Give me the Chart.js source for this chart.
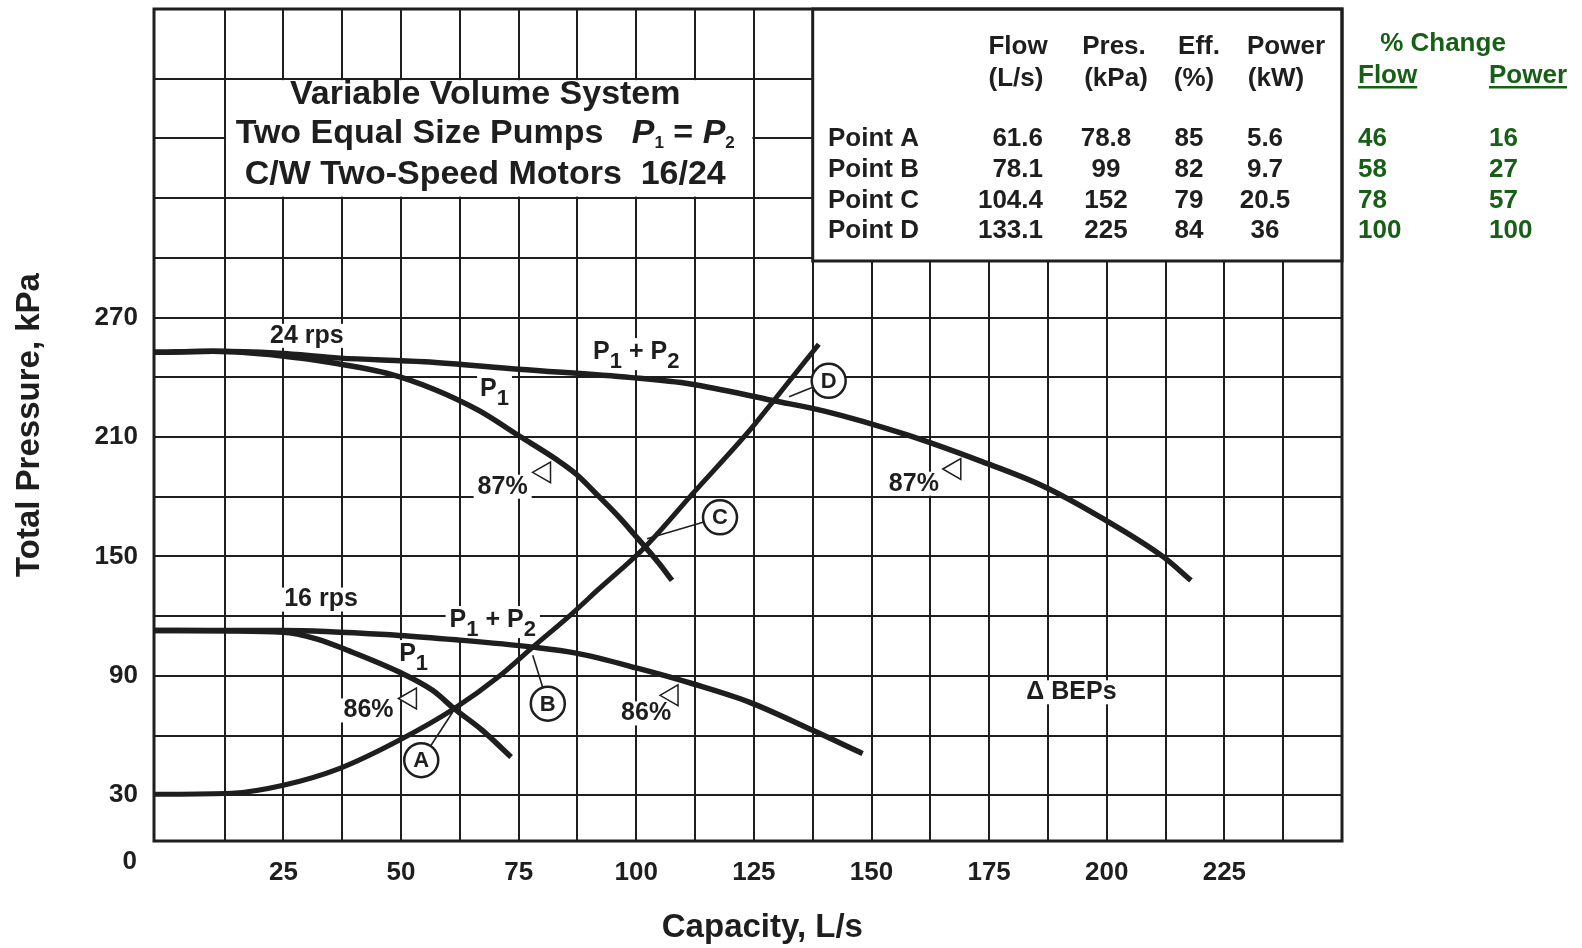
<!DOCTYPE html>
<html>
<head>
<meta charset="utf-8">
<title>Variable Volume System</title>
<script src="https://cdn.jsdelivr.net/npm/chart.js@4.4.0/dist/chart.umd.min.js"></script>
<style>
    html, body { margin: 0; padding: 0; background: #fff; }
    #wrap { width: 1582px; height: 948px; }
</style>
</head>
<body>
<div id="wrap"><canvas id="pumpChart" width="1582" height="948"></canvas></div>
<script>
// 坐标轴刻度
const flowTicks = [25, 50, 75, 100, 125, 150, 175, 200, 225];
const presTicks = [30, 90, 150, 210, 270];

// 系统曲线
const flowSys = [-2.5, 14, 25, 37, 49.6, 61.3, 71, 78, 86, 92, 102, 112, 124, 129.2, 138.8];
const presSys = [30.5, 31, 35, 43.5, 57.6, 73.5, 90, 104.4, 120.5, 133.5, 155, 181.5, 213, 228.2, 256.6];

// 24 rps: P1 + P2 与 P1
const flow24Both = [-2.5, 10, 24, 37, 55, 75, 99, 111.5, 129.2, 140, 156.9, 172.9, 186.3, 199.3, 212.1, 217.9];
const pres24Both = [252.5, 253, 252, 249.6, 247.8, 244, 239.8, 236.6, 228.2, 223, 211.5, 198.1, 185.5, 168.8, 149.6, 137.9];
const flow24One = [-2.5, 10, 24.3, 36, 47.7, 57, 66.7, 74.8, 82.9, 87.2, 92.1, 96.4, 99.4, 104.9, 107.6];
const pres24One = [252.5, 253, 250.8, 247, 241.6, 234, 223.1, 211, 198.9, 191.4, 180, 169.6, 161.5, 146.3, 137.9];

// 16 rps: P1 + P2 与 P1
const flow16Both = [-2.5, 24.9, 49.6, 61.7, 78, 87.2, 100.6, 112, 124, 137.5, 148.1];
const pres16Both = [112.8, 112.8, 110.3, 108.1, 104.4, 101.4, 93.6, 86, 76.8, 62.6, 50.9];
const flow16One = [-2.5, 24.9, 32, 39, 49.6, 56.7, 61.3, 67.3, 73.4];
const pres16One = [112.8, 111.9, 108.6, 102.5, 91.9, 82.7, 73.5, 62.6, 49.2];

// 最佳效率点 (三角形)
const bepFlow = [80.5, 167.7, 52, 107.6];
const bepPres = [192.2, 193.9, 78.6, 80.2];

// 工况点 A-D：圆圈位置与引线终点
const tagLetters = ['A', 'B', 'C', 'D'];
const tagFlow = [54.3, 81.2, 117.8, 140.9];
const tagPres = [47.6, 76, 169.6, 238.2];
const hitFlow = [61.0, 78, 102.3, 132.5];
const hitPres = [71.8, 100.3, 158.8, 230.2];

// 表格
const pointNames = ['Point A', 'Point B', 'Point C', 'Point D'];
const flowVals = [61.6, 78.1, 104.4, 133.1];
const presVals = [78.8, 99, 152, 225];
const effVals = [85, 82, 79, 84];
const powerVals = [5.6, 9.7, 20.5, 36];
const flowChange = [46, 58, 78, 100];
const powerChange = [16, 27, 57, 100];

// 曲线旁的文字
const noteText = ['24 rps', '16 rps', '87%', '87%', '86%', '86%', '\u0394 BEPs'];
const noteFlow = [30.0, 33.0, 71.6, 159, 43.1, 102.1, 192.5];
const notePres = [260.8, 128.3, 185, 186.5, 72.6, 71.1, 81.7];
const pSumFlow = [100.0, 69.5];
const pSumPres = [249.1, 114.5];
const pOneFlow = [66.8, 49.6];
const pOnePres = [230.7, 97.4];

const FONT = '"Liberation Sans", Arial, Helvetica, sans-serif';
const INK = '#1e1e1e';
const GREEN = '#175e17';

function bold(px, italic) {
    return (italic ? 'italic ' : '') + 'bold ' + px + 'px ' + FONT;
}

function toPoints(xs, ys) {
    return xs.map((v, i) => ({ x: v, y: ys[i] }));
}

function runsWidth(ctx, runs) {
    return runs.reduce((s, r) => {
        ctx.font = r.font;
        r.w = ctx.measureText(r.t).width;
        return s + r.w;
    }, 0);
}

function drawRuns(ctx, runs, left, base) {
    ctx.textAlign = 'left';
    ctx.textBaseline = 'alphabetic';
    let cx = left;
    runs.forEach(r => {
        ctx.font = r.font;
        ctx.fillText(r.t, cx, base + (r.dy || 0));
        cx += r.w;
    });
}

function pRuns(sum) {
    const big = bold(25), sub = bold(22);
    const runs = [{ t: 'P', font: big }, { t: '1', font: sub, dy: 9 }];
    if (sum) {
        runs.push({ t: ' + ', font: big }, { t: 'P', font: big }, { t: '2', font: sub, dy: 9 });
    }
    return runs;
}

// 标注插件：白底框、文字、表格
const notesPlugin = {
    id: 'pumpNotes',
    beforeDatasetsDraw(chart) {
        const { ctx, chartArea: a, scales: { x, y } } = chart;
        ctx.save();

        // 标题框
        const tx0 = x.getPixelForValue(12.5), tx1 = x.getPixelForValue(125);
        const ty0 = y.getPixelForValue(390), ty1 = y.getPixelForValue(330);
        ctx.fillStyle = '#fff';
        ctx.fillRect(tx0 + 1.5, ty0 + 1.5, tx1 - tx0 - 3, ty1 - ty0 - 3);

        const cx = x.getPixelForValue(67.9);
        ctx.fillStyle = INK;
        ctx.textAlign = 'center';
        ctx.textBaseline = 'alphabetic';
        ctx.font = bold(34);
        ctx.fillText('Variable Volume System', cx, y.getPixelForValue(377.2));
        ctx.fillText('C/W Two-Speed Motors  16/24', cx, y.getPixelForValue(337.2));
        const line2 = [
            { t: 'Two Equal Size Pumps', font: bold(34) },
            { t: '   ', font: bold(34) },
            { t: 'P', font: bold(34, true) },
            { t: '1', font: bold(17), dy: 5 },
            { t: ' = ', font: bold(34) },
            { t: 'P', font: bold(34, true) },
            { t: '2', font: bold(17), dy: 5 }
        ];
        const w2 = runsWidth(ctx, line2);
        drawRuns(ctx, line2, cx - w2 / 2, y.getPixelForValue(357.7));

        // 表格框
        const bx = x.getPixelForValue(137.5), by = y.getPixelForValue(298.4);
        ctx.fillStyle = '#fff';
        ctx.fillRect(bx, a.top, a.right - bx, by - a.top);
        ctx.strokeStyle = INK;
        ctx.lineWidth = 3;
        ctx.strokeRect(bx, a.top, a.right - bx, by - a.top);

        ctx.fillStyle = INK;
        ctx.font = bold(26);
        ctx.textAlign = 'center';
        const r = a.right, t = a.top;
        [['Flow', -324], ['Pres.', -228], ['Eff.', -143], ['Power', -56]].forEach(h => ctx.fillText(h[0], r + h[1], t + 45));
        [['(L/s)', -326], ['(kPa)', -226], ['(%)', -148], ['(kW)', -66]].forEach(h => ctx.fillText(h[0], r + h[1], t + 77));
        const rowBase = [137, 168, 199, 229];
        pointNames.forEach((name, i) => {
            const yy = t + rowBase[i];
            ctx.textAlign = 'left';
            ctx.fillText(name, r - 514, yy);
            ctx.textAlign = 'right';
            ctx.fillText(String(flowVals[i]), r - 299, yy);
            ctx.textAlign = 'center';
            ctx.fillText(String(presVals[i]), r - 236, yy);
            ctx.fillText(String(effVals[i]), r - 153, yy);
            ctx.fillText(String(powerVals[i]), r - 77, yy);
        });

        // 曲线旁文字
        ctx.font = bold(25);
        ctx.textBaseline = 'middle';
        ctx.textAlign = 'center';
        noteText.forEach((txt, i) => {
            const px = x.getPixelForValue(noteFlow[i]), py = y.getPixelForValue(notePres[i]);
            const w = ctx.measureText(txt).width;
            ctx.fillStyle = '#fff';
            ctx.fillRect(px - w / 2 - 4, py - 12, w + 8, 24);
            ctx.fillStyle = INK;
            ctx.fillText(txt, px, py);
        });

        pSumFlow.forEach((f, i) => {
            const runs = pRuns(true);
            const w = runsWidth(ctx, runs);
            const px = x.getPixelForValue(f) - w / 2, base = y.getPixelForValue(pSumPres[i]);
            ctx.fillStyle = '#fff';
            ctx.fillRect(px - 4, base - 21, w + 8, 32);
            ctx.fillStyle = INK;
            drawRuns(ctx, runs, px, base);
        });
        pOneFlow.forEach((f, i) => {
            const runs = pRuns(false);
            const w = runsWidth(ctx, runs);
            const px = x.getPixelForValue(f), base = y.getPixelForValue(pOnePres[i]);
            ctx.fillStyle = '#fff';
            ctx.fillRect(px - 3, base - 21, w + 6, 32);
            ctx.fillStyle = INK;
            drawRuns(ctx, runs, px, base);
        });

        // 引线
        ctx.strokeStyle = INK;
        ctx.lineWidth = 1.6;
        tagLetters.forEach((l, i) => {
            ctx.beginPath();
            ctx.moveTo(x.getPixelForValue(tagFlow[i]), y.getPixelForValue(tagPres[i]));
            ctx.lineTo(x.getPixelForValue(hitFlow[i]), y.getPixelForValue(hitPres[i]));
            ctx.stroke();
        });
        ctx.restore();
    },
    afterDatasetsDraw(chart) {
        const { ctx, chartArea: a, scales: { x, y } } = chart;
        ctx.save();
        // 圆圈字母
        ctx.fillStyle = INK;
        ctx.font = bold(22);
        ctx.textAlign = 'center';
        ctx.textBaseline = 'middle';
        tagLetters.forEach((l, i) => {
            ctx.fillText(l, x.getPixelForValue(tagFlow[i]), y.getPixelForValue(tagPres[i]) + 1);
        });

        // 外框
        ctx.strokeStyle = INK;
        ctx.lineWidth = 3;
        ctx.strokeRect(a.left, a.top, a.right - a.left, a.bottom - a.top);

        // 原点 0
        ctx.font = bold(26);
        ctx.textAlign = 'right';
        ctx.fillText('0', a.left - 17, y.getPixelForValue(0) + 7);

        // x 轴标题
        ctx.font = bold(33);
        ctx.textAlign = 'center';
        ctx.fillText('Capacity, L/s', x.getPixelForValue(126.8), chart.height - 20);

        // 百分比变化
        const r = a.right, t = a.top;
        ctx.font = bold(26);
        ctx.fillStyle = GREEN;
        ctx.textBaseline = 'alphabetic';
        ctx.textAlign = 'center';
        ctx.fillText('% Change', r + 101, t + 42);
        ctx.textAlign = 'left';
        ctx.fillText('Flow', r + 16, t + 74);
        ctx.fillText('Power', r + 147, t + 74);
        ctx.fillRect(r + 16, t + 77, ctx.measureText('Flow').width, 2.5);
        ctx.fillRect(r + 147, t + 77, ctx.measureText('Power').width, 2.5);
        const rowBase = [137, 168, 199, 229];
        flowChange.forEach((v, i) => {
            ctx.fillText(String(v), r + 16, t + rowBase[i]);
            ctx.fillText(String(powerChange[i]), r + 147, t + rowBase[i]);
        });
        ctx.restore();
    }
};

const flowGrid = [];
for (let v = 12.5; v < 250; v += 12.5) flowGrid.push(v);
const presGrid = [];
for (let v = 30; v <= 390; v += 30) presGrid.push(v);

function curve(xs, ys, width) {
    return {
        type: 'line',
        data: toPoints(xs, ys),
        pointRadius: 0,
        borderColor: INK,
        borderWidth: width,
        cubicInterpolationMode: 'monotone',
        borderCapStyle: 'butt',
        borderJoinStyle: 'round',
        fill: false
    };
}

const ctx = document.getElementById('pumpChart').getContext('2d');
const pumpChart = new Chart(ctx, {
    type: 'scatter',
    data: {
        datasets: [
            {
                data: toPoints(tagFlow, tagPres),
                pointStyle: 'circle',
                pointRadius: 17,
                pointBackgroundColor: '#fff',
                pointBorderColor: INK,
                pointBorderWidth: 2.5
            },
            {
                data: toPoints(bepFlow, bepPres),
                pointStyle: 'triangle',
                pointRotation: 270,
                pointRadius: 12,
                pointBackgroundColor: '#fff',
                pointBorderColor: INK,
                pointBorderWidth: 1.5
            },
            curve(flowSys, presSys, 5),
            curve(flow24Both, pres24Both, 5.5),
            curve(flow24One, pres24One, 5.5),
            curve(flow16Both, pres16Both, 5.5),
            curve(flow16One, pres16One, 5.5)
        ]
    },
    options: {
        responsive: false,
        animation: false,
        events: [],
        layout: { autoPadding: false, padding: { left: 0, top: 9, right: 240, bottom: 0 } },
        plugins: {
            legend: { display: false },
            tooltip: { enabled: false }
        },
        scales: {
            x: {
                type: 'linear',
                min: -2.5,
                max: 250,
                afterBuildTicks: s => { s.ticks = flowGrid.map(v => ({ value: v })); },
                afterFit: s => {
                    s.height = 107;
                    s.paddingLeft = 0;
                    s.paddingRight = 0;
                },
                grid: { color: INK, lineWidth: 2, drawTicks: false },
                border: { display: false },
                ticks: {
                    autoSkip: false,
                    maxRotation: 0,
                    padding: 16,
                    color: INK,
                    font: { family: FONT, size: 26, weight: 'bold' },
                    callback: v => flowTicks.includes(v) ? String(v) : ''
                },
                title: { display: false }
            },
            y: {
                type: 'linear',
                min: 7,
                max: 425,
                afterBuildTicks: s => { s.ticks = presGrid.map(v => ({ value: v })); },
                afterFit: s => {
                    s.width = 154;
                    s.paddingTop = 0;
                    s.paddingBottom = 0;
                },
                grid: { color: INK, lineWidth: 2, drawTicks: false },
                border: { display: false },
                ticks: {
                    autoSkip: false,
                    padding: 16,
                    color: INK,
                    font: { family: FONT, size: 26, weight: 'bold' },
                    callback: v => presTicks.includes(v) ? String(v) : ''
                },
                title: {
                    display: true,
                    text: 'Total Pressure, kPa',
                    color: INK,
                    font: { family: FONT, size: 33, weight: 'bold' },
                    padding: { top: 10, bottom: 0 }
                }
            }
        }
    },
    plugins: [notesPlugin]
});
</script>
</body>
</html>
